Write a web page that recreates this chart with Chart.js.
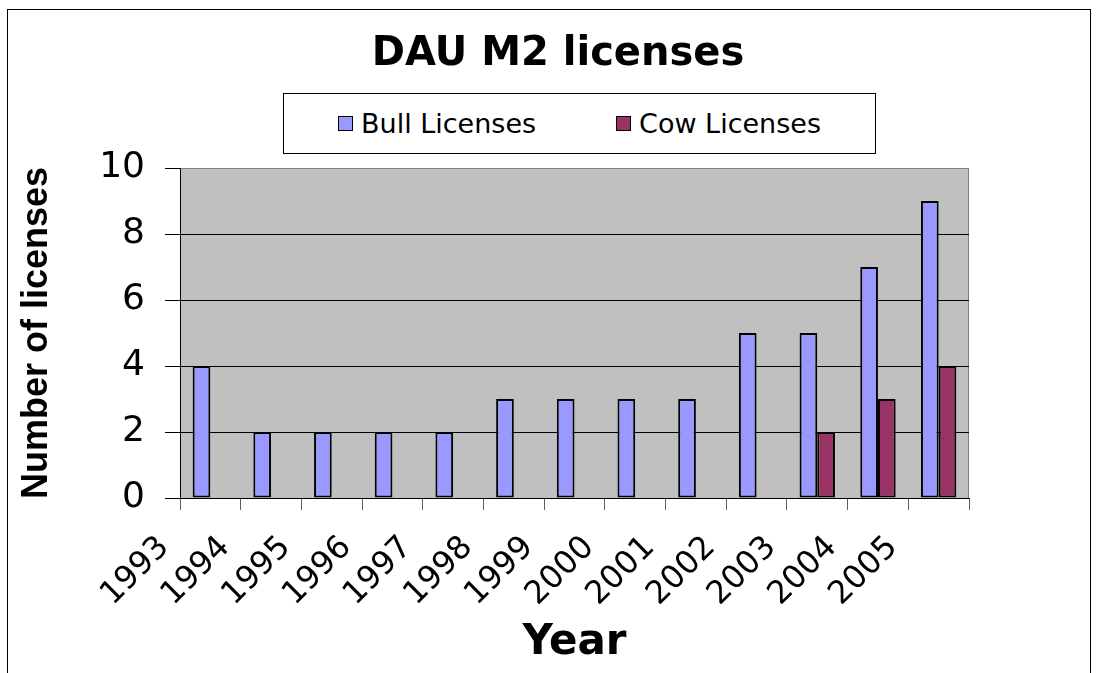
<!DOCTYPE html>
<html>
<head>
<meta charset="utf-8">
<title>DAU M2 licenses</title>
<script src="https://cdn.jsdelivr.net/npm/chart.js@4.4.0/dist/chart.umd.min.js"></script>
<style>
  html, body { margin: 0; padding: 0; background: #fff; overflow: hidden; }
  #frame { position: absolute; left: 7px; top: 9px; width: 1084px; height: 700px;
           border: 1px solid #000; box-sizing: border-box; }
  #wrap { position: absolute; left: 0; top: 0; width: 1099px; height: 673px; }
  #legend { position: absolute; left: 283px; top: 93px; width: 593px; height: 61px;
            box-sizing: border-box; border: 1px solid #000; background: #fff;
            display: flex; align-items: center; justify-content: center; gap: 80px;
            font-family: 'DejaVu Sans'; font-size: 27px; color: #000; }
  .item { display: flex; align-items: center; }
  .swatch { width: 15px; height: 15px; border: 1.5px solid #000; box-sizing: border-box; margin-right: 8px; }
</style>
</head>
<body>
<div id="frame"></div>
<div id="wrap"><canvas id="mycanvas" width="1099" height="673"></canvas></div>
<div id="legend"></div>
<script>
var years = ['1993', '1994', '1995', '1996', '1997', '1998', '1999', '2000', '2001', '2002', '2003', '2004', '2005'];
var bullLicenses = [4, 2, 2, 2, 2, 3, 3, 3, 3, 5, 5, 7, 9];
var cowLicenses = [null, null, null, null, null, null, null, null, null, null, 2, 3, 4];
var yTicks = [0, 2, 4, 6, 8, 10];

// gray plot area behind the bars
var plotBg = {
  id: 'plotBg',
  beforeDraw: function (chart) {
    var a = chart.chartArea;
    var ctx = chart.ctx;
    ctx.save();
    ctx.fillStyle = '#C0C0C0';
    ctx.fillRect(a.left, a.top, a.right - a.left, a.bottom - a.top);
    ctx.strokeStyle = '#808080';
    ctx.lineWidth = 1;
    ctx.strokeRect(a.left + 0.5, a.top + 0.5, a.right - a.left - 1, a.bottom - a.top);
    ctx.restore();
  }
};

var ctx = document.getElementById('mycanvas');

var barGraph = new Chart(ctx, {
  type: 'bar',
  data: {
    labels: years,
    datasets: [
      {
        label: 'Bull Licenses',
        backgroundColor: '#9999FF',
        borderColor: '#000000',
        borderWidth: 2,
        borderSkipped: false,
        yAxisID: 'y',
        data: bullLicenses
      },
      {
        label: 'Cow Licenses',
        backgroundColor: '#993366',
        borderColor: '#000000',
        borderWidth: 2,
        borderSkipped: false,
        yAxisID: 'y',
        data: cowLicenses
      }
    ]
  },
  options: {
    responsive: false,
    animation: false,
    layout: { padding: { left: 17, right: 0, top: 0, bottom: 0 } },
    datasets: { bar: { categoryPercentage: 0.583, barPercentage: 1 } },
    plugins: {
      legend: { display: false },
      tooltip: { enabled: false },
      title: {
        display: true,
        text: 'DAU M2 licenses',
        color: '#000',
        font: { family: 'DejaVu Sans', size: 40, weight: 'bold', lineHeight: 1.2 },
        padding: { top: 30.5, bottom: 89.5 }
      }
    },
    scales: {
      x: {
        offset: true,
        grid: { display: true, offset: true, drawOnChartArea: false, drawTicks: true, tickLength: 12, color: '#606060' },
        border: { display: true, color: '#000', width: 1 },
        ticks: {
          color: '#000',
          font: { family: 'DejaVu Sans', size: 32 },
          minRotation: 45,
          maxRotation: 45,
          autoSkip: false,
          labelOffset: -46,
          padding: 19
        },
        title: {
          display: true,
          text: 'Year',
          color: '#000',
          font: { family: 'DejaVu Sans', size: 42, weight: 'bold', lineHeight: 1.2 },
          padding: { top: 0, bottom: 5 }
        },
        afterFit: function (s) { s.height = 175; }
      },
      y: {
        position: 'left',
        min: 0,
        max: 10,
        afterBuildTicks: function (s) {
          s.ticks = yTicks.map(function (v) { return { value: v }; });
        },
        grid: {
          color: function (c) { return c.tick && c.tick.value === 10 ? '#808080' : '#000'; },
          tickColor: '#000',
          tickLength: 15,
          drawTicks: true
        },
        border: { display: true, color: '#000', width: 1 },
        ticks: {
          color: '#000',
          font: { family: 'DejaVu Sans', size: 36 },
          padding: 20
        },
        title: {
          display: true,
          text: 'Number of licenses',
          color: '#000',
          font: { family: 'Liberation Sans', size: 36, weight: 'bold', lineHeight: 1.1 },
          padding: { top: 0, bottom: 0 }
        },
        afterFit: function (s) { s.width = 163; }
      },
      yRight: {
        type: 'linear',
        position: 'right',
        display: true,
        grid: { display: false },
        border: { display: false },
        ticks: { display: false },
        afterFit: function (s) { s.width = 130; }
      }
    }
  },
  plugins: [plotBg]
});

// legend box built from the datasets
var legendBox = document.getElementById('legend');
barGraph.data.datasets.forEach(function (ds) {
  var item = document.createElement('div');
  item.className = 'item';
  var sw = document.createElement('span');
  sw.className = 'swatch';
  sw.style.background = ds.backgroundColor;
  var tx = document.createElement('span');
  tx.textContent = ds.label;
  item.appendChild(sw);
  item.appendChild(tx);
  legendBox.appendChild(item);
});
</script>
</body>
</html>
